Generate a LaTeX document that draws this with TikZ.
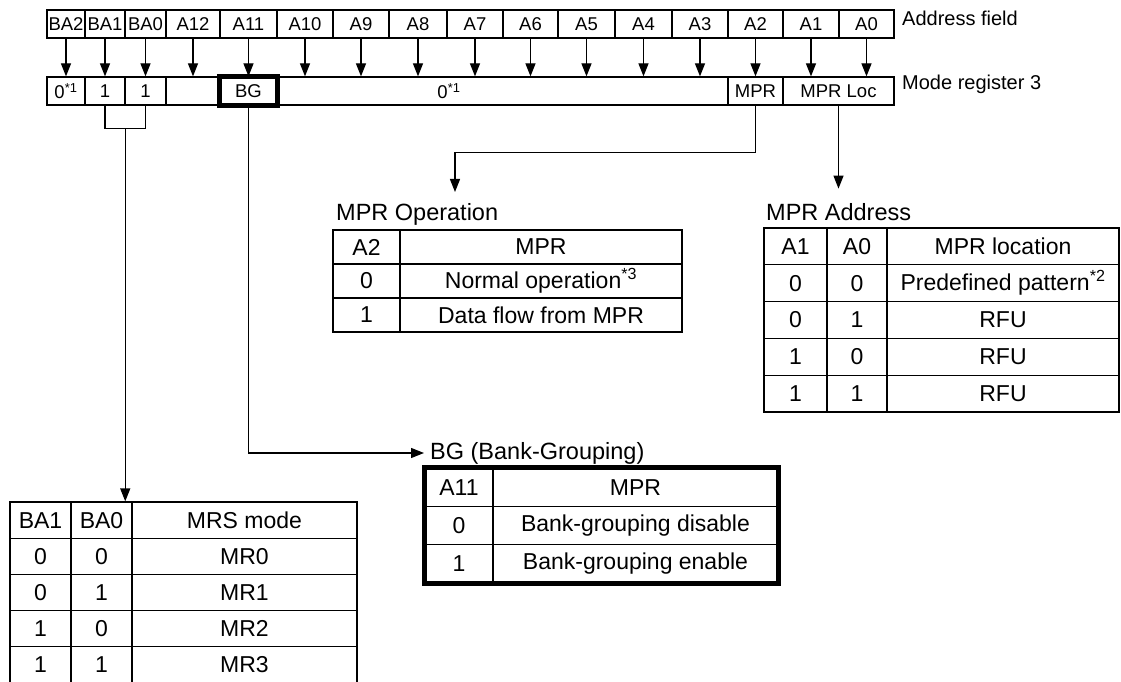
\documentclass[tikz,border=0pt]{standalone}
\usepackage{fontspec}
\setmainfont{Liberation Sans}
\usetikzlibrary{arrows.meta,calc}

\tikzset{
  field/.style={draw, line width=1.2bp, minimum height=28bp, inner sep=0pt,
    font=\fontsize{18.5bp}{22bp}\selectfont},
  tab/.style={draw, line width=1.2bp, inner sep=0pt,
    font=\fontsize{23bp}{26bp}\selectfont},
  caption/.style={anchor=west, inner sep=0pt, font=\fontsize{23.5bp}{26bp}\selectfont},
  note/.style={anchor=west, inner sep=0pt, font=\fontsize{20bp}{24bp}\selectfont},
  down/.style={-{Triangle[width=10bp,length=13bp]}, line width=1.2bp},
}

\begin{document}
\begin{tikzpicture}[x=1bp, y=-1bp]
\useasboundingbox (0,0) rectangle (1121,682);

% address field
\foreach \xa/\xb/\t [count=\i] in {47/85/BA2, 85/125/BA1, 125/166/BA0, 166/220/A12,
    220/277/A11, 277/333/A10, 333/389/A9, 389/447/A8, 447/503/A7, 503/558/A6,
    558/615/A5, 615/672/A4, 672/728/A3, 728/783/A2, 783/839/A1, 839/894/A0}
  \node[field, minimum width={(\xb-\xa)*1bp}] (a\i) at ({(\xa+\xb)/2},24) {\t};

% mode register 3
\foreach \xa/\xb/\t [count=\i] in {47/85/{0\textsuperscript{*1}}, 85/125/1, 125/166/1,
    166/220/{}, 220/277/BG, 277/728/{}, 728/783/MPR, 783/894/MPR Loc}
  \node[field, minimum width={(\xb-\xa)*1bp}] (m\i) at ({(\xa+\xb)/2},91) {\t};
\draw[line width=4.5bp] (m5.north west) rectangle (m5.south east);
\node[field, draw=none] (zeros) at (449,91) {0\textsuperscript{*1}};

\foreach \i in {1,...,16}
  \draw[down] (a\i.south) -- (a\i.south |- m1.north);

\node[note] (afl) at (902,18) {Address field};
\node[note] (mrl) at (902,84) {Mode register 3};

% MPR Operation
\node[caption] (opcap) at (336,214) {MPR Operation};
\foreach \p/\t [count=\i] in {A2/MPR, 0/{Normal operation\textsuperscript{*3}}, 1/Data flow from MPR} {
  \node[tab, minimum width=67bp, minimum height=34bp] (op\i-a) at (366.5,213+34*\i) {\p};
  \node[tab, minimum width=282bp, minimum height=34bp] (op\i-b) at (541,213+34*\i) {\t};
}

% MPR Address
\node[caption] (adrcap) at (766,212) {MPR Address};
\foreach \p/\q/\t [count=\i] in {A1/A0/MPR location, 0/0/{Predefined pattern\textsuperscript{*2}},
    0/1/RFU, 1/0/RFU, 1/1/RFU} {
  \node[tab, minimum width=63bp, minimum height=36.8bp] (adr\i-a) at (795.5,209.6+36.8*\i) {\p};
  \node[tab, minimum width=60bp, minimum height=36.8bp] (adr\i-b) at (857,209.6+36.8*\i) {\q};
  \node[tab, minimum width=232bp, minimum height=36.8bp] (adr\i-c) at (1003,209.6+36.8*\i) {\t};
}

% BG (Bank-Grouping)
\node[caption] (bgcap) at (430,453) {BG (Bank-Grouping)};
\foreach \p/\t [count=\i] in {A11/MPR, 0/Bank-grouping disable, 1/Bank-grouping enable} {
  \node[tab, minimum width=68bp, minimum height=38.3bp] (bg\i-a) at (459,448.85+38.3*\i) {\p};
  \node[tab, minimum width=285bp, minimum height=38.3bp] (bg\i-b) at (635.5,448.85+38.3*\i) {\t};
}
\draw[line width=4.5bp] (bg1-a.north west) rectangle (bg3-b.south east);

% MRS mode
\foreach \p/\q/\t [count=\i] in {BA1/BA0/MRS mode, 0/0/MR0, 0/1/MR1, 1/0/MR2, 1/1/MR3} {
  \node[tab, minimum width=61bp, minimum height=36.2bp] (mrs\i-a) at (40.5,483.9+36.2*\i) {\p};
  \node[tab, minimum width=61bp, minimum height=36.2bp] (mrs\i-b) at (101.5,483.9+36.2*\i) {\q};
  \node[tab, minimum width=225bp, minimum height=36.2bp] (mrs\i-c) at (244.5,483.9+36.2*\i) {\t};
}

% connectors
\draw[line width=1.2bp] (m2.south) -- ++(0,23) -| (m3.south);
\coordinate (brk) at ($(m2.south)!.5!(m3.south)+(0,23)$);
\draw[down] (brk) -- (brk |- mrs1-b.north);
\draw[down] (m5.south) |- ([xshift=-6bp]bgcap.west);
\coordinate (optip) at (455,192);
\draw[down] (m7.south) -- ++(0,47) -| (optip);
\coordinate (loctip) at ($(m8.south)+(0,83)$);
\draw[down] (m8.south) -- (loctip);
\end{tikzpicture}
\end{document}
